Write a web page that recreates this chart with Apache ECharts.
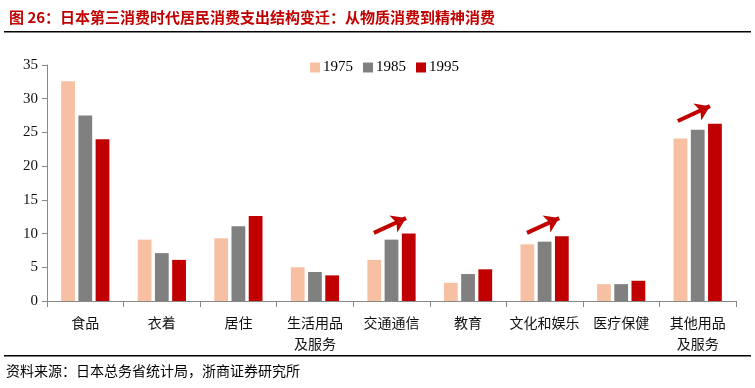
<!DOCTYPE html>
<html><head><meta charset="utf-8">
<script src="https://cdn.jsdelivr.net/npm/echarts@6/dist/echarts.min.js"></script>
<style>html,body{margin:0;padding:0;background:#fff;}#c{width:755px;height:388px;}</style>
</head><body><div id="c"></div>
<script>
const categories = ['食品','衣着','居住','生活用品及服务','交通通信','教育','文化和娱乐','医疗保健','其他用品及服务'];
const seriesNames = ['1975','1985','1995'];
const v1975 = [32.6, 9.1, 9.3, 5.0, 6.1, 2.7, 8.4, 2.5, 24.1];
const v1985 = [27.5, 7.1, 11.1, 4.3, 9.1, 4.0, 8.8, 2.5, 25.4];
const v1995 = [24.0, 6.1, 12.6, 3.8, 10.0, 4.7, 9.6, 3.0, 26.3];
const yTicks = [0, 5, 10, 15, 20, 25, 30, 35];
// arrows: [startCategoryPos, startValue, endCategoryPos, endValue]
const arrows = [
  [3.77, 10.1, 4.19, 12.3],
  [5.77, 10.1, 6.19, 12.3],
  [7.74, 26.7, 8.16, 28.9]
];
const titleText = '图 26：日本第三消费时代居民消费支出结构变迁：从物质消费到精神消费';
const sourceText = '资料来源：日本总务省统计局，浙商证券研究所';

const colors = ['#F8C0A3', '#808080', '#C00000'];
const serif = '"Liberation Serif", "Times New Roman", serif';
const cjk = '"Noto Sans CJK SC", sans-serif';
const chart = echarts.init(document.getElementById('c'));
const vals = [v1975, v1985, v1995];
const series = seriesNames.map((n, i) => ({
  name: n, type: 'bar', data: vals[i], barGap: '25%', barCategoryGap: '37%',
  itemStyle: { color: colors[i] }
}));
series.push({
  type: 'scatter', xAxisIndex: 1, data: [], silent: true,
  markLine: {
    silent: true, symbol: ['none', 'arrow'], symbolSize: 14,
    lineStyle: { color: '#C00000', width: 4, type: 'solid', opacity: 1 },
    itemStyle: { color: '#C00000' },
    label: { show: false },
    emphasis: { disabled: true },
    data: arrows.map(a => [{ coord: [a[0], a[1]] }, { coord: [a[2], a[3]] }])
  }
});
chart.setOption({
  animation: false,
  color: colors,
  title: {
    text: titleText, left: 4, top: 5,
    textStyle: { color: '#C00000', fontSize: 15, fontWeight: 'bold', fontFamily: cjk }
  },
  graphic: [
    { type: 'rect', shape: { x: 4, y: 31, width: 747, height: 1.5 }, style: { fill: '#000' } },
    { type: 'rect', shape: { x: 4, y: 355, width: 747, height: 1.5 }, style: { fill: '#000' } },
    { type: 'text', left: 6, top: 364, style: { text: sourceText, fontSize: 14, fontFamily: cjk, fill: '#000' } }
  ],
  legend: {
    data: seriesNames, left: 305, top: 55, itemWidth: 10, itemHeight: 10, itemGap: 10,
    icon: 'rect',
    textStyle: { fontSize: 15, fontFamily: serif, color: '#000', padding: [0, 0, 0, -2] }
  },
  grid: { left: 47, right: 19, top: 65, bottom: 87 },
  xAxis: [{
    type: 'category', data: categories,
    axisLine: { lineStyle: { color: '#888', width: 1 } },
    axisTick: { show: true, inside: false, length: 6, lineStyle: { color: '#888' } },
    axisLabel: {
      interval: 0, fontSize: 14, fontFamily: cjk, color: '#111', lineHeight: 21, margin: 11,
      formatter: v => v.length > 5 ? v.slice(0, 4) + '\n' + v.slice(4) : v
    }
  }, {
    type: 'value', min: -0.5, max: 8.5, show: false
  }],
  yAxis: {
    type: 'value', min: 0, max: 35, interval: 5,
    axisLine: { show: true, onZero: false, lineStyle: { color: '#888' } },
    axisTick: { show: true, length: 5, lineStyle: { color: '#888' } },
    splitLine: { show: false },
    axisLabel: { fontSize: 15, fontFamily: serif, color: '#111', margin: 9,
      formatter: v => yTicks.includes(v) ? String(v) : '' }
  },
  series: series
});
</script></body></html>
